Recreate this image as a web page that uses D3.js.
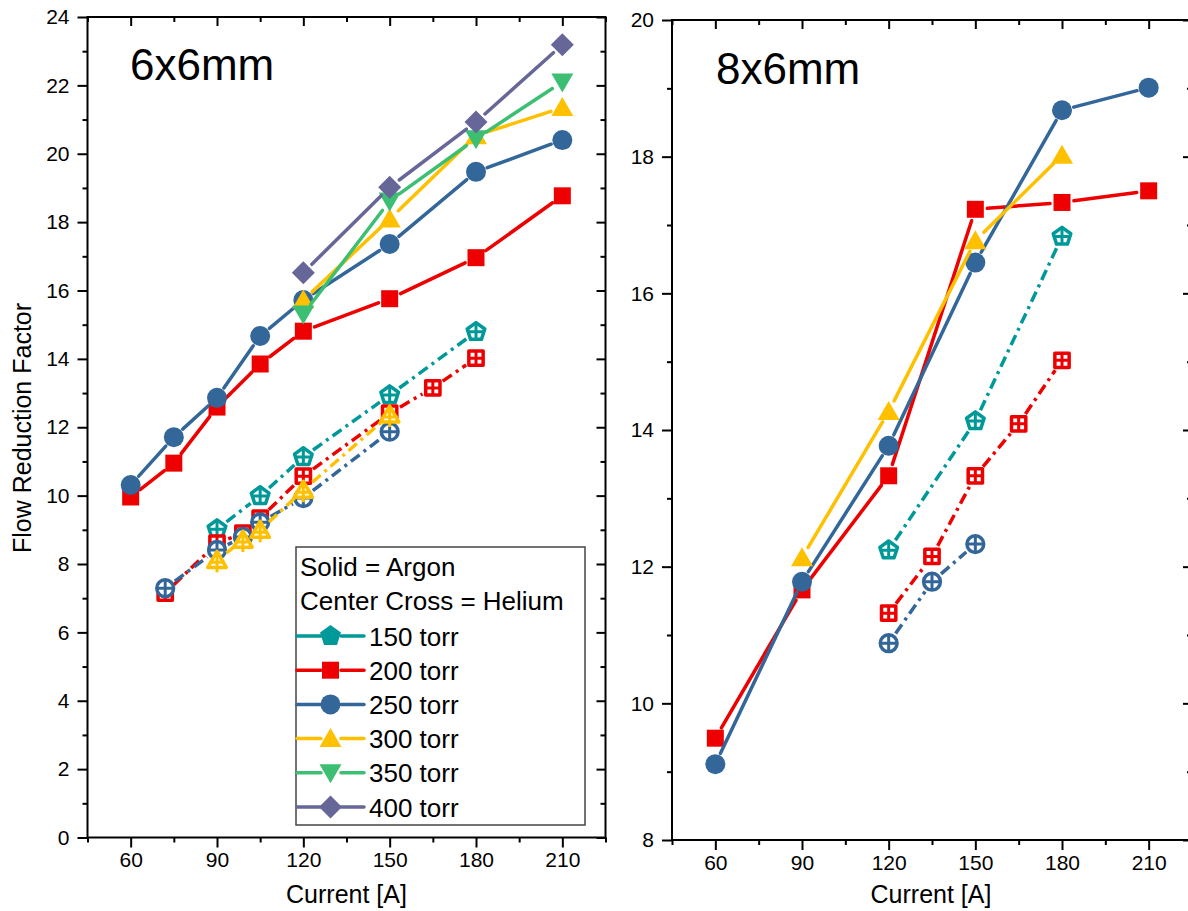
<!DOCTYPE html>
<html><head><meta charset="utf-8">
<script src="https://cdn.jsdelivr.net/npm/d3@7"></script>
<style>
body{margin:0;background:#fff}
svg{display:block}
text{font-family:"Liberation Sans",Arial,sans-serif;fill:#000}
</style>
</head><body>
<svg id="chart" width="1188" height="911"></svg>
<script>
// ---------------- DATA ----------------
const pressureLabels = ["150 torr","200 torr","250 torr","300 torr","350 torr","400 torr"];
const xTickLabels = [60, 90, 120, 150, 180, 210];
const leftYTicks = [0,2,4,6,8,10,12,14,16,18,20,22,24];
const rightYTicks = [8,10,12,14,16,18,20];
const panelTitles = ["6x6mm", "8x6mm"];

// Left panel (6x6mm) - Argon (solid)
const L_AR_CUR_A = [60,75,90,105,120,150,180,210];
const L_AR_200 = [9.96,10.95,12.59,13.85,14.81,15.76,16.96,18.77];
const L_AR_250 = [10.31,11.71,12.86,14.67,15.72,17.36,19.47,20.40];
const L_AR_CUR_B = [120,150,180,210];
const L_AR_300 = [15.72,18.09,20.53,21.35];
const L_AR_350 = [15.31,18.62,20.44,22.10];
const L_AR_400 = [16.52,19.02,20.93,23.19];
// Left panel - Helium (center cross)
const L_HE_150_CUR = [90,105,120,150,180];
const L_HE_150 = [9.02,9.99,11.13,12.94,14.79];
const L_HE_200_CUR = [72,90,99,105,120,150,165,180];
const L_HE_200 = [7.15,8.61,8.90,9.34,10.57,12.41,13.15,14.02];
const L_HE_250_CUR = [72,90,99,105,120,150];
const L_HE_250 = [7.29,8.41,8.79,9.22,9.93,11.87];
const L_HE_300_CUR = [90,99,105,120,150];
const L_HE_300 = [8.11,8.70,8.99,10.16,12.36];

// Right panel (8x6mm) - Argon
const R_AR_CUR = [60,90,120,150,180,210];
const R_AR_200 = [9.49,11.66,13.33,17.23,17.33,17.50];
const R_AR_250 = [9.11,11.78,13.77,16.45,18.68,19.01];
const R_AR_300_CUR = [90,120,150,180];
const R_AR_300 = [12.13,14.27,16.77,18.02];
// Right panel - Helium
const R_HE_150_CUR = [120,150,180];
const R_HE_150 = [12.24,14.13,16.83];
const R_HE_200_CUR = [120,135,150,165,180];
const R_HE_200 = [11.32,12.15,13.33,14.09,15.02];
const R_HE_250_CUR = [120,135,150];
const R_HE_250 = [10.88,11.78,12.33];

// ---------------- STYLE ----------------
const COLORS = ["#009999","#EE0000","#336699","#FFC000","#3CBF72","#666699"];
const SHAPES = ["pentagon","square","circle","triUp","triDown","diamond"];

const svg = d3.select("#chart");

function shapePath(shape, k) {
  const p = d3.path();
  if (shape === "square") {
    const h = 8.5*k; p.rect(-h,-h,2*h,2*h);
  } else if (shape === "circle") {
    const r = 10*k; p.moveTo(r,0); p.arc(0,0,r,0,2*Math.PI); p.closePath();
  } else if (shape === "triUp") {
    p.moveTo(0,-10.5*k); p.lineTo(11*k,8.5*k); p.lineTo(-11*k,8.5*k); p.closePath();
  } else if (shape === "triDown") {
    p.moveTo(0,10.5*k); p.lineTo(11*k,-8.5*k); p.lineTo(-11*k,-8.5*k); p.closePath();
  } else if (shape === "diamond") {
    const h = 11.5*k; p.moveTo(0,-h); p.lineTo(h,0); p.lineTo(0,h); p.lineTo(-h,0); p.closePath();
  } else if (shape === "pentagon") {
    const R = 11*k;
    for (let i=0;i<5;i++){const a=-Math.PI/2+i*2*Math.PI/5; const x=R*Math.cos(a), y=R*Math.sin(a); if(i===0)p.moveTo(x,y); else p.lineTo(x,y);} p.closePath();
  }
  return p.toString();
}
function crossPath(shape) {
  const p = d3.path();
  if (shape === "square") { p.moveTo(-7,0);p.lineTo(7,0);p.moveTo(0,-7);p.lineTo(0,7); }
  else if (shape === "circle") { p.moveTo(-8.5,0);p.lineTo(8.5,0);p.moveTo(0,-8.5);p.lineTo(0,8.5); }
  else if (shape === "pentagon") { p.moveTo(-8,0);p.lineTo(8,0);p.moveTo(0,-9.5);p.lineTo(0,8); }
  else if (shape === "triUp") { p.moveTo(-8,2);p.lineTo(8,2);p.moveTo(0,-9);p.lineTo(0,12); }
  else if (shape === "triDown") { p.moveTo(-8,-2);p.lineTo(8,-2);p.moveTo(0,9);p.lineTo(0,-12); }
  else { p.moveTo(-9,0);p.lineTo(9,0);p.moveTo(0,-9);p.lineTo(0,9); }
  return p.toString();
}

function drawMarker(g, cx, cy, idx, helium) {
  const shape = SHAPES[idx], col = COLORS[idx];
  const m = g.append("g").attr("transform", `translate(${cx},${cy})`);
  if (!helium) {
    m.append("path").attr("d", shapePath(shape,1)).attr("fill", col);
  } else {
    m.append("path").attr("d", shapePath(shape,0.84)).attr("fill","#fff").attr("stroke",col).attr("stroke-width",3.5).attr("stroke-linejoin","round");
    m.append("path").attr("d", crossPath(shape)).attr("stroke",col).attr("stroke-width",3).attr("fill","none");
  }
}

function drawSeries(g, x, y, xs, ys, idx, helium) {
  const pts = xs.map((v,i)=>[x(v), y(ys[i])]);
  const gap = 12;
  const lg = g.append("g");
  for (let i=0;i<pts.length-1;i++){
    const [x1,y1]=pts[i],[x2,y2]=pts[i+1];
    const dx=x2-x1, dy=y2-y1, L=Math.hypot(dx,dy);
    if (L <= 2*gap+1) continue;
    const ux=dx/L, uy=dy/L;
    lg.append("line")
      .attr("x1",x1+ux*gap).attr("y1",y1+uy*gap)
      .attr("x2",x2-ux*gap).attr("y2",y2-uy*gap)
      .attr("stroke",COLORS[idx]).attr("stroke-width",3.5)
      .attr("stroke-linecap", helium ? "butt" : "round")
      .attr("stroke-dasharray", helium ? "11 5 3 5" : null);
  }
  const mg = g.append("g");
  pts.forEach(([px,py])=>drawMarker(mg,px,py,idx,helium));
}

function drawFrame(g, x, y, yTicks, minorY) {
  const [x0,x1] = x.range(), [yb,yt] = y.range();
  const xt = d3.range(45, 226, 15);
  const isMajX = v => xTickLabels.includes(v);
  const isMajY = v => yTicks.includes(v);
  const b = g.append("g").attr("transform",`translate(0,${yb})`)
    .call(d3.axisBottom(x).tickValues(xt).tickFormat(v=>isMajX(v)?v:"").tickSize(10).tickPadding(5).tickSizeOuter(0));
  b.selectAll(".tick line").attr("y2", v=>isMajX(v)?10:5).attr("stroke-width",2);
  b.select(".domain").remove();
  b.selectAll("text").style("font-size","21px").style("font-family","Liberation Sans, Arial, sans-serif");
  const t = g.append("g").attr("transform",`translate(0,${yt})`)
    .call(d3.axisTop(x).tickValues(xt).tickFormat("").tickSize(-9).tickSizeOuter(0));
  t.selectAll(".tick line").attr("y2", v=>isMajX(v)?9:5).attr("stroke-width",2);
  t.select(".domain").remove();
  const l = g.append("g").attr("transform",`translate(${x0},0)`)
    .call(d3.axisLeft(y).tickValues(minorY).tickFormat(v=>isMajY(v)?v:"").tickSize(10).tickPadding(8).tickSizeOuter(0));
  l.selectAll(".tick line").attr("x2", v=>isMajY(v)?-10:-5).attr("stroke-width",2);
  l.select(".domain").remove();
  l.selectAll("text").style("font-size","21px").style("font-family","Liberation Sans, Arial, sans-serif");
  const r = g.append("g").attr("transform",`translate(${x1},0)`)
    .call(d3.axisRight(y).tickValues(minorY).tickFormat("").tickSize(-9).tickSizeOuter(0));
  r.selectAll(".tick line").attr("x2", v=>isMajY(v)?-9:-5).attr("stroke-width",2);
  r.select(".domain").remove();
  g.append("rect").attr("x",x0).attr("y",yt).attr("width",x1-x0).attr("height",yb-yt)
    .attr("fill","none").attr("stroke","#000").attr("stroke-width",2);
}

// ---------------- LEFT PANEL ----------------
const xL = d3.scaleLinear().domain([45,225]).range([87.5,605.5]);
const yL = d3.scaleLinear().domain([0,24]).range([837.5,17]);
const gL = svg.append("g");
drawFrame(gL, xL, yL, leftYTicks, d3.range(0,25,1));

const gLd = svg.append("g");
drawSeries(gLd,xL,yL,L_AR_CUR_A,L_AR_200,1,false);
drawSeries(gLd,xL,yL,L_AR_CUR_A,L_AR_250,2,false);
drawSeries(gLd,xL,yL,L_AR_CUR_B,L_AR_300,3,false);
drawSeries(gLd,xL,yL,L_AR_CUR_B,L_AR_350,4,false);
drawSeries(gLd,xL,yL,L_AR_CUR_B,L_AR_400,5,false);
drawSeries(gLd,xL,yL,L_HE_150_CUR,L_HE_150,0,true);
drawSeries(gLd,xL,yL,L_HE_200_CUR,L_HE_200,1,true);
drawSeries(gLd,xL,yL,L_HE_250_CUR,L_HE_250,2,true);
drawSeries(gLd,xL,yL,L_HE_300_CUR,L_HE_300,3,true);

svg.append("text").attr("x",130).attr("y",80).style("font-size","44px").text(panelTitles[0]);

// ---------------- RIGHT PANEL ----------------
const xR = d3.scaleLinear().domain([45,225]).range([672,1192]);
const yR = d3.scaleLinear().domain([8,20]).range([840,20]);
const gR = svg.append("g");
drawFrame(gR, xR, yR, rightYTicks, d3.range(8,21,1));

const gRd = svg.append("g");
drawSeries(gRd,xR,yR,R_AR_CUR,R_AR_200,1,false);
drawSeries(gRd,xR,yR,R_AR_CUR,R_AR_250,2,false);
drawSeries(gRd,xR,yR,R_AR_300_CUR,R_AR_300,3,false);
drawSeries(gRd,xR,yR,R_HE_150_CUR,R_HE_150,0,true);
drawSeries(gRd,xR,yR,R_HE_200_CUR,R_HE_200,1,true);
drawSeries(gRd,xR,yR,R_HE_250_CUR,R_HE_250,2,true);

svg.append("text").attr("x",716).attr("y",84).style("font-size","44px").text(panelTitles[1]);

// ---------------- AXIS TITLES ----------------
svg.append("text").attr("x",(xL.range()[0]+xL.range()[1])/2).attr("y",903)
  .attr("text-anchor","middle").style("font-size","25px").text("Current [A]");
svg.append("text").attr("x",931).attr("y",903)
  .attr("text-anchor","middle").style("font-size","25px").text("Current [A]");
svg.append("text").attr("transform","translate(31,428) rotate(-90)")
  .attr("text-anchor","middle").style("font-size","25px").text("Flow Reduction Factor");

// ---------------- LEGEND ----------------
const lg = svg.append("g");
lg.append("rect").attr("x",296).attr("y",547).attr("width",289).attr("height",278)
  .attr("fill","#fff").attr("stroke","#444").attr("stroke-width",1.5);
lg.append("text").attr("x",300).attr("y",576).style("font-size","26px").text("Solid = Argon");
lg.append("text").attr("x",300).attr("y",610).style("font-size","26px").text("Center Cross = Helium");
pressureLabels.forEach((lab,i)=>{
  const cy = 636 + i*34.2;
  lg.append("line").attr("x1",297).attr("x2",321).attr("y1",cy).attr("y2",cy)
    .attr("stroke",COLORS[i]).attr("stroke-width",3.5).attr("stroke-linecap","round");
  lg.append("line").attr("x1",341).attr("x2",364).attr("y1",cy).attr("y2",cy)
    .attr("stroke",COLORS[i]).attr("stroke-width",3.5).attr("stroke-linecap","round");
  drawMarker(lg,330.5,cy,i,false);
  lg.append("text").attr("x",369).attr("y",cy+9.5).style("font-size","26px").text(lab);
});
</script>
</body></html>
